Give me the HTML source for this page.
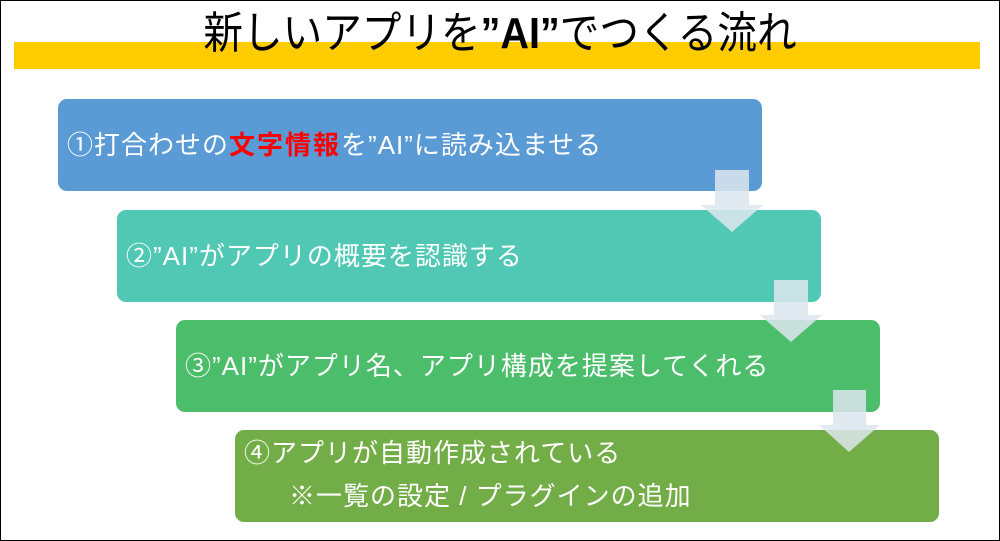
<!DOCTYPE html>
<html><head><meta charset="utf-8"><style>
body{margin:0;width:1000px;height:541px;overflow:hidden;background:#fff;position:relative;font-family:"Liberation Sans","Noto Sans CJK JP",sans-serif}
.frame{position:absolute;left:0;top:0;width:998px;height:539px;border:1px solid #000}
.bar{position:absolute;left:14px;top:42px;width:966px;height:27px;background:#ffcc00}
.title{position:absolute;left:0;width:1000px;top:4px;text-align:center;font-size:44px;line-height:60px;color:#000;transform:scaleX(0.9)}
.box{position:absolute;width:704px;height:92px;border-radius:9px;color:#fff;font-size:26px;letter-spacing:1px;box-sizing:border-box;padding-left:9px;line-height:92px;white-space:nowrap}
</style></head><body>
<div class="frame"></div>
<div class="bar"></div>
<div class="title">新しいアプリを<b>”AI”</b>でつくる流れ</div>
<div class="box" style="left:58px;top:99px;background:#5b9bd5">①打合わせの<b style="color:#ff0000;letter-spacing:2px">文字情報</b>を”AI”に読み込ませる</div>
<div class="box" style="left:117px;top:210px;background:#50c8b4">②”AI”がアプリの概要を認識する</div>
<div class="box" style="left:176px;top:320px;background:#4cbd6b">③”AI”がアプリ名、アプリ構成を提案してくれる</div>
<div class="box" style="left:235px;top:430px;background:#72ad47;line-height:43px;padding-top:2px">④アプリが自動作成されている<br><span style="padding-left:45px">※一覧の設定 / プラグインの追加</span></div>
<svg width="1000" height="541" style="position:absolute;left:0;top:0">
<g fill="#dde6ef" fill-opacity="0.85">
<polygon points="715,170 749,170 749,205 763,205 732,232 701,205 715,205"/>
<polygon points="774,280 808,280 808,315 822,315 791,342 760,315 774,315"/>
<polygon points="833,390 866,390 866,425 880,425 849,452 819,425 833,425"/>
</g></svg>
</body></html>
